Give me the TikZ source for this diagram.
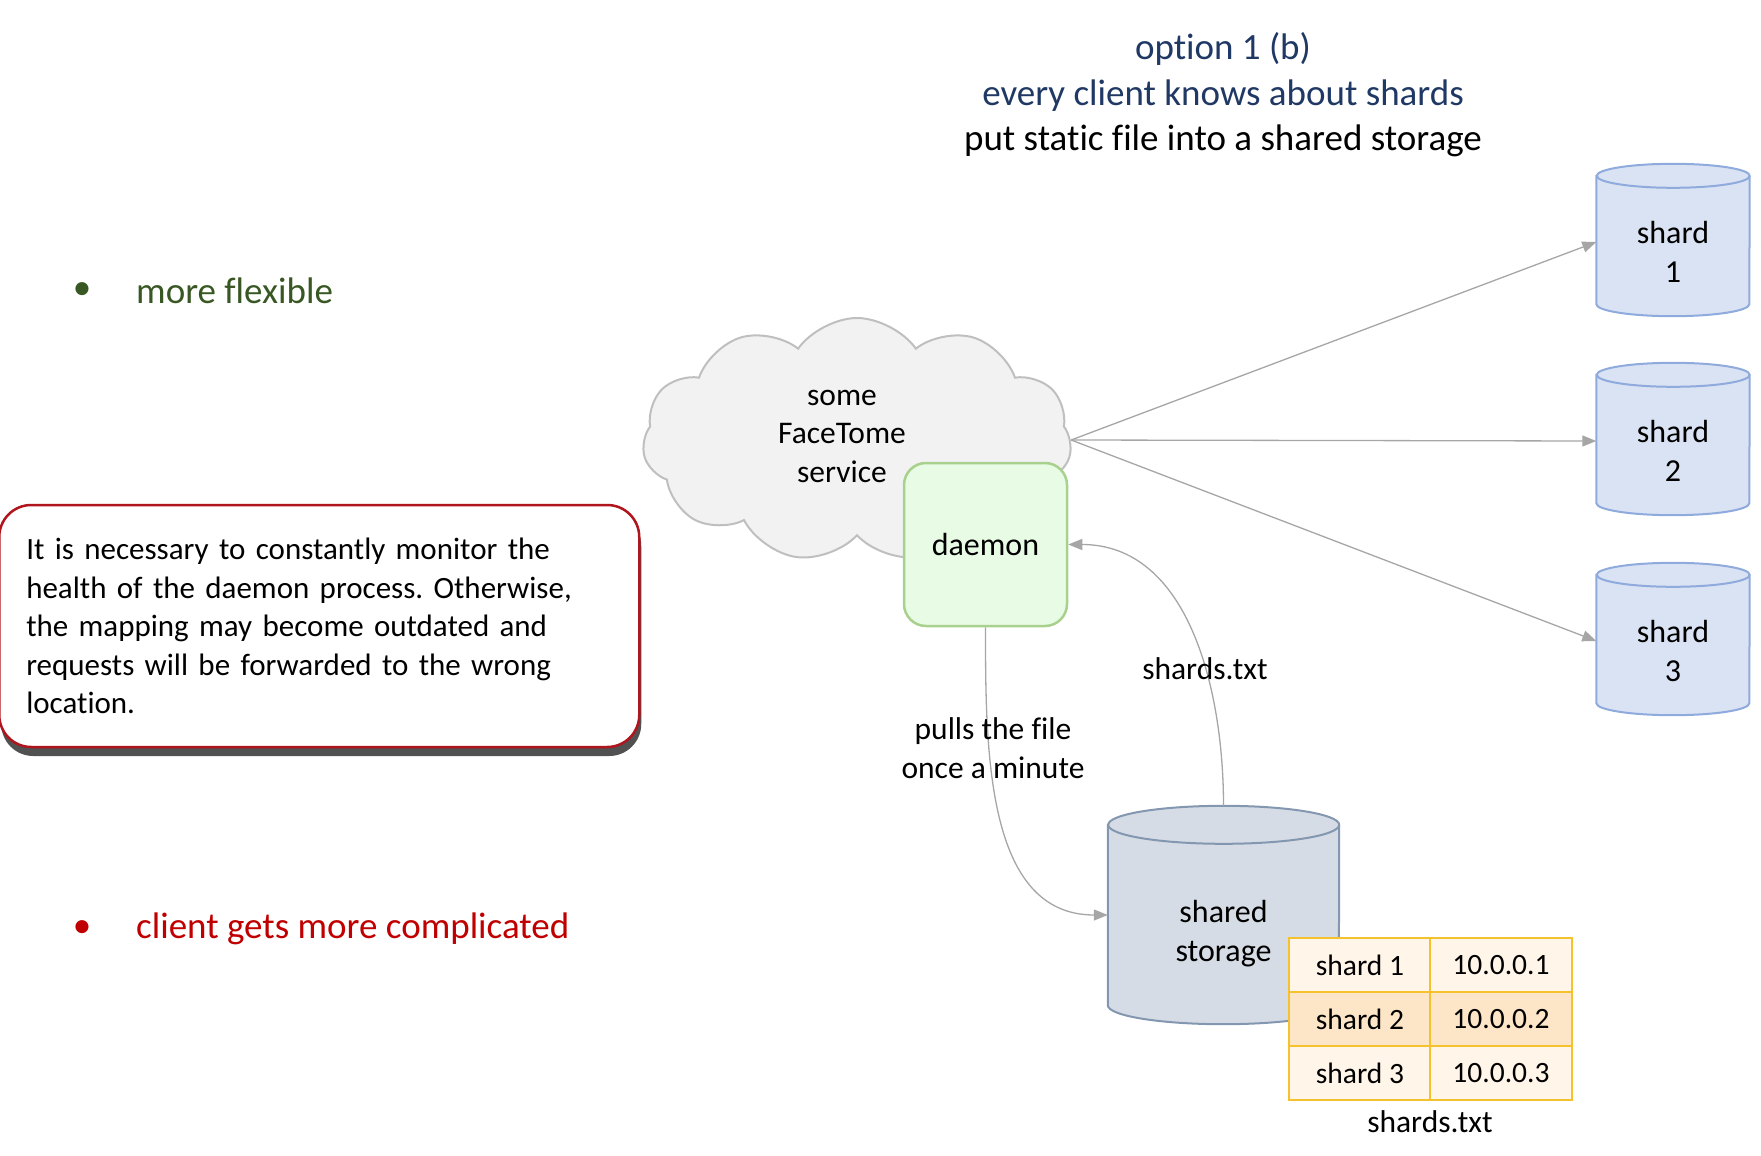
\documentclass[tikz,border=0pt]{standalone}
\usepackage{fontspec}
\setmainfont{Carlito}[Ligatures=NoCommon]
\usetikzlibrary{arrows.meta, positioning, shapes.symbols, shadows, backgrounds}

\definecolor{titleblue}{HTML}{1F3864}
\definecolor{goodgreen}{HTML}{385723}
\definecolor{badred}{HTML}{C00000}
\definecolor{noteline}{HTML}{B0141C}
\definecolor{cloudfill}{HTML}{F2F2F2}
\definecolor{cloudline}{HTML}{BFBFBF}
\definecolor{daemonfill}{HTML}{E8FBE4}
\definecolor{daemonline}{HTML}{A9D18E}
\definecolor{shardfill}{HTML}{DAE3F3}
\definecolor{shardline}{HTML}{8FAADC}
\definecolor{storefill}{HTML}{D6DCE5}
\definecolor{storeline}{HTML}{8497B0}
\definecolor{cellfill}{HTML}{FFF5E8}
\definecolor{cellmid}{HTML}{FDE6C8}
\definecolor{cellline}{HTML}{F5C22E}
\definecolor{linkgray}{HTML}{A6A6A6}

% can round the front face of a node: node, x radius, y radius, colour prefix
\newcommand{\drawcan}[4]{%
  \path[draw=#4line, fill=#4fill, line width=2pt]
    ([yshift=#3]#1.north west) -- ([yshift=#3]#1.south west)
    arc[start angle=180, end angle=360, x radius=#2, y radius=#3]
    -- ([yshift=#3]#1.north east)
    arc[start angle=0, end angle=180, x radius=#2, y radius=#3] -- cycle;
  \draw[#4line, line width=2pt] ([yshift=#3]#1.north east)
    arc[start angle=0, end angle=-180, x radius=#2, y radius=#3];
}

\tikzset{
  shard/.style={minimum width=153pt, minimum height=128pt, inner sep=0pt, align=center,
    font=\fontsize{32}{39}\selectfont},
  link/.style={draw=linkgray, line width=1.3pt, -{Triangle[length=14pt,width=11pt,fill=linkgray]}},
  cell/.style={draw=cellline, line width=2.5pt, minimum width=142pt, minimum height=54pt,
    inner sep=0pt, font=\fontsize{29.5}{34}\selectfont},
  plain/.style={font=\fontsize{31.5}{38.5}\selectfont, align=center},
}

\begin{document}
\frenchspacing
\begin{tikzpicture}[x=1pt, y=-1pt]
\useasboundingbox (0,0) rectangle (1761,1156);

% heading
\node[align=center, font=\fontsize{37}{45.5}\selectfont] (title) at (1223,95)
  {\textcolor{titleblue}{option 1 (b)}\\ \textcolor{titleblue}{every client knows about shards}\\ put static file into a shared storage};

% pros and cons
\node[text=goodgreen, font=\fontsize{37}{40}\selectfont] (dot1) at (82,291) {•};
\node[text=goodgreen, anchor=west, inner sep=0pt, font=\fontsize{37}{40}\selectfont] (pro) at (136,291) {more flexible};
\node[text=badred, font=\fontsize{37}{40}\selectfont] (dot2) at (82,929) {•};
\node[text=badred, anchor=west, inner sep=0pt, font=\fontsize{37}{40}\selectfont] (con) at (136,929) {client gets more complicated};

% warning
\node[draw=noteline, line width=2.5pt, fill=white, rounded corners=32pt, anchor=west,
  minimum height=242pt, inner xsep=27pt, text width=586pt, align=left,
  font=\fontsize{31}{38.5}\selectfont,
  drop shadow={shadow xshift=2pt, shadow yshift=-9pt, fill=black!80, opacity=0.85}] (note) at (-2,626)
  {It is necessary to constantly monitor the\\ health of the daemon process. Otherwise,\\ the mapping may become outdated and\\ requests will be forwarded to the wrong\\ location.};

% service
\node[cloud, cloud puffs=11, cloud puff arc=110, draw=cloudline, fill=cloudfill, line width=2pt,
  minimum width=429pt, minimum height=244pt, aspect=1.75] (svc) at (857,440) {};
\node[plain] (svctext) at (842,436) {some\\ FaceTome\\ service};
\node[draw=daemonline, fill=daemonfill, line width=2.5pt, rounded corners=22pt,
  minimum width=163pt, minimum height=163pt, font=\fontsize{32}{36}\selectfont] (daemon) at (985.5,544.5) {daemon};

% shards
\foreach \s/\y in {1/252, 2/451, 3/651}
  \node[shard] (shard\s) at (1673,\y) {shard\\ \s};
\begin{pgfonlayer}{background}
  \foreach \s in {1,2,3} {
    \drawcan{shard\s}{76.5pt}{12pt}{shard}
  }
\end{pgfonlayer}

\foreach \s in {1,2,3}
  \draw[link] (svc.east) -- ([yshift=10pt]shard\s.west);

% storage
\node[minimum width=231pt, minimum height=180pt, inner sep=0pt, align=center,
  font=\fontsize{32}{39}\selectfont] (store) at (1223.5,934) {shared\\ storage};
\begin{pgfonlayer}{background}
  \drawcan{store}{115.5pt}{19pt}{store}
\end{pgfonlayer}

\draw[link] (daemon.south) to[out=-90, in=180] ([yshift=19pt]store.west);
\draw[link] ([yshift=38pt]store.north) to[out=90, in=0] (daemon.east);
\node[plain] (pulls) at (993,748) {pulls the file\\ once a minute};
\node[plain] (txtlbl) at (1205,669) {shards.txt};

% the file
\foreach \r/\ip in {1/10.0.0.1, 2/10.0.0.2, 3/10.0.0.3} {
  \ifnum\r=2 \def\cf{cellmid}\else\def\cf{cellfill}\fi
  \node[cell, fill=\cf] (name\r) at (1360,911+54*\r) {shard \r};
  \node[cell, fill=\cf] (ip\r) at (1501,911+54*\r) {\ip};
}
\node[plain] (fname) at (1430,1122) {shards.txt};
\end{tikzpicture}
\end{document}
